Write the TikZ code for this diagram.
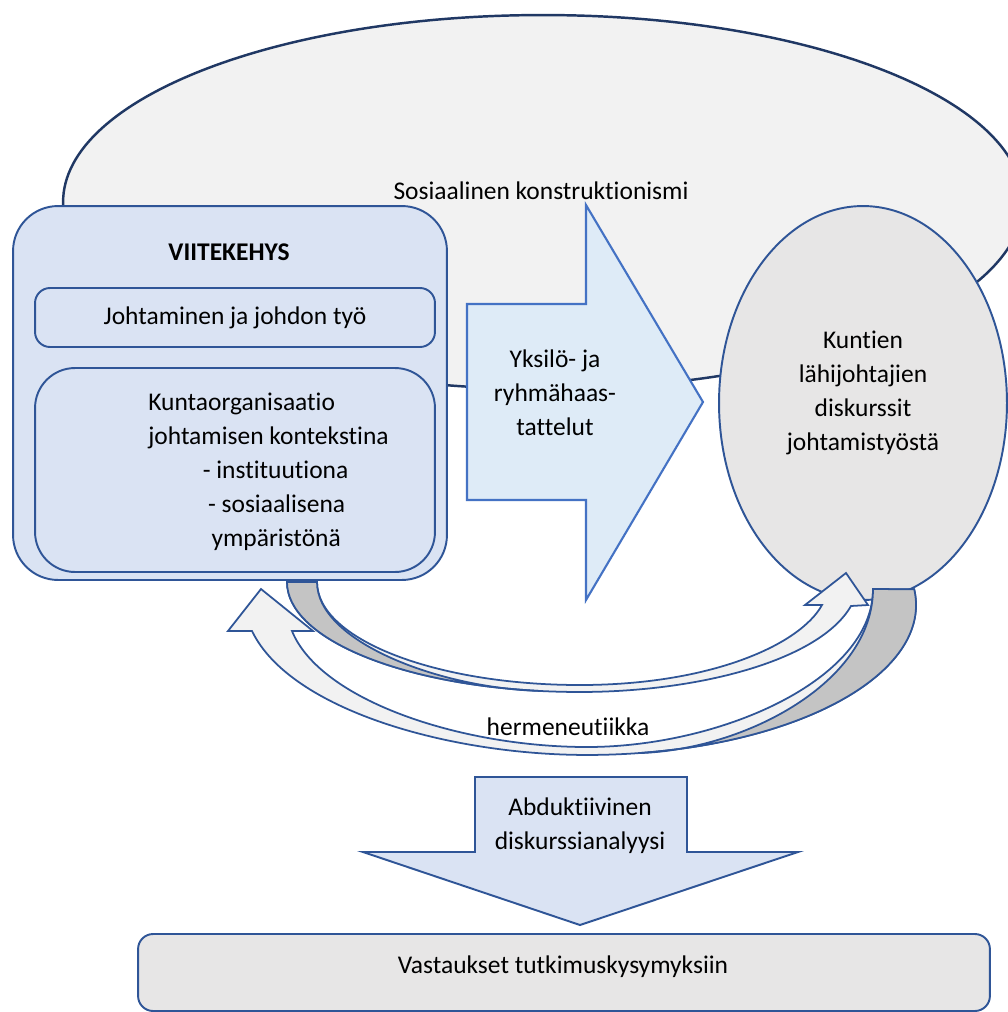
\documentclass[tikz,border=0pt]{standalone}
\usepackage{fontspec}
\setmainfont{Carlito}[Ligatures=NoCommon]
\usetikzlibrary{shapes.geometric}

\definecolor{rim}{RGB}{47,85,151}
\definecolor{rimdark}{RGB}{32,56,100}
\definecolor{arrowrim}{RGB}{68,114,196}
\definecolor{bgfill}{RGB}{242,242,242}
\definecolor{frameblue}{RGB}{218,227,243}
\definecolor{arrowblue}{RGB}{222,235,247}
\definecolor{discgray}{RGB}{231,230,230}
\definecolor{bandgray}{RGB}{196,196,196}

\begin{document}
\begin{tikzpicture}[x=0.02cm, y=-0.02cm,
  txt/.style={font=\fontsize{14.5}{19.3}\selectfont, align=center, inner sep=0pt},
  box/.style={draw=rim, line width=1.1pt, fill=frameblue, inner sep=0pt},
  band/.style={draw=rim, line width=1pt, fill=bgfill, line join=miter},
  backband/.style={draw=rim, line width=1pt, fill=bandgray}]

\useasboundingbox (0,0) rectangle (1008,1012);
\clip (0,0) rectangle (1008,1012);

\fill[white] (0,0) rectangle (1008,1012);

\draw[draw=rimdark, line width=1.4pt, fill=bgfill] (543,202) ellipse [x radius=9.6cm, y radius=3.74cm];
\node[txt] (soskon) at (541,191) {Sosiaalinen konstruktionismi};

\node[box, rounded corners=0.9cm, minimum width=8.68cm, minimum height=7.48cm] (frame) at (230,393) {};
\node[txt, font=\fontsize{14.5}{19.3}\selectfont\bfseries] (vk) at (229,252) {VIITEKEHYS};
\node[box, rounded corners=0.3cm, minimum width=8cm, minimum height=1.18cm, txt] (johto) at (235,317.5) {Johtaminen ja johdon työ};
\node[box, rounded corners=0.8cm, minimum width=8cm, minimum height=4.08cm] (kunta) at (235,470) {};
\node[txt, align=left, anchor=west] (ctx) at (148,472)
  {Kuntaorganisaatio\\johtamisen kontekstina\\\hspace*{31pt}- instituutiona\\\hspace*{34pt}- sosiaalisena\\\hspace*{36pt}ympäristönä};

\draw[draw=arrowrim, line width=1.2pt, fill=arrowblue, line join=miter]
  (467,304) -- (586,304) -- (586,205) -- (703,402) -- (586,600) -- (586,500) -- (467,500) -- cycle;
\node[txt] (haast) at (555,393) {Yksilö- ja\\ryhmähaas-\\tattelut};

\node[ellipse, draw=rim, line width=1.1pt, fill=discgray, minimum width=5.76cm, minimum height=7.88cm, inner sep=0pt] (disk) at (863,403) {};
\node[txt] (disktxt) at (863,393) {Kuntien\\lähijohtajien\\diskurssit\\johtamistyöstä};

\draw[band] (287,582) arc[start angle=180, end angle=270, x radius=5.86cm, y radius=2.2cm]
  .. controls (700,692) and (820,660) .. (851,606) -- (868,605) -- (846,573) -- (805,605) -- (822,605)
  .. controls (800,645) and (710,685) .. (580,685) .. controls (435,685) and (317,639) .. (317,582) -- cycle;
\draw[backband] (287,582) arc[start angle=180, end angle=262, x radius=5.86cm, y radius=2.2cm]
  .. controls (440,688) and (317,642) .. (317,582) -- cycle;

\draw[band] (914.2,589.3) arc[start angle=6, end angle=-90, x radius=6.58cm, y radius=3cm]
  .. controls (450,755) and (290,710) .. (252,631) -- (228,631) -- (261,589) -- (313,631) -- (292,631)
  .. controls (320,700) and (460,747) .. (587,747) .. controls (720,747) and (873,680) .. (873,589) -- cycle;
\draw[backband] (914.2,589.3) arc[start angle=6, end angle=-81, x radius=6.58cm, y radius=3cm]
  .. controls (745,750) and (873,682) .. (873,589) -- cycle;

\node[txt] (herm) at (568,727) {hermeneutiikka};

\draw[draw=rim, line width=1.1pt, fill=frameblue, line join=miter]
  (475,777) -- (687,777) -- (687,852) -- (798,852) -- (580,925) -- (363,852) -- (475,852) -- cycle;
\node[txt] (abd) at (580,826) {Abduktiivinen\\diskurssianalyysi};

\node[box, fill=discgray, rounded corners=0.3cm, minimum width=17.04cm, minimum height=1.54cm] (vast) at (564,972.5) {};
\node[txt] (vasttxt) at (563,967) {Vastaukset tutkimuskysymyksiin};

\end{tikzpicture}
\end{document}
